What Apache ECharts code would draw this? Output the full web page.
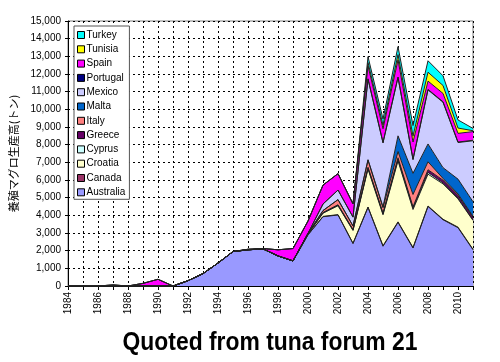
<!DOCTYPE html>
<html>
<head>
<meta charset="utf-8">
<script src="https://cdn.jsdelivr.net/npm/echarts@6/dist/echarts.min.js"></script>
<style>
  html, body { margin: 0; padding: 0; background: #fff; }
  #main { width: 500px; height: 362px; }
</style>
</head>
<body>
<div id="main"></div>
<script>
// years 1984-2011
var years = [];
for (var y = 1984; y <= 2011; y++) years.push(String(y));

var australia = [0,0,0,0,0,0,0,0,300,700,1300,1950,2050,2100,1700,1420,2900,3920,4020,2400,4450,2250,3600,2150,4500,3750,3300,2050];
var canada    = [0,0,0,0,0,0,0,0,0,0,0,0,0,0,0,0,0,20,20,20,20,30,30,30,30,30,30,30];
var croatia   = [0,0,0,0,0,0,0,0,0,0,0,0,0,0,0,0,50,180,500,720,2150,1750,3450,2150,1800,2000,1600,1630];
var cyprus    = [0,0,0,0,0,0,0,0,0,0,0,0,0,0,0,0,0,20,30,30,50,50,80,80,100,60,50,30];
var greece    = [0,0,0,0,0,0,0,0,0,0,0,0,0,0,0,0,0,20,30,30,50,50,100,70,150,150,150,150];
var italy     = [0,0,0,0,0,0,0,0,0,0,0,0,0,0,0,0,30,110,290,200,400,300,350,700,450,100,80,50];
var malta     = [0,0,0,0,0,0,0,0,0,0,0,0,0,0,0,0,0,0,0,0,30,50,890,1200,1010,610,840,830];
var mexico    = [0,0,0,0,0,0,0,0,0,0,0,0,0,0,0,0,0,370,540,500,4550,3620,3300,770,3060,3700,2070,3450];
var portugal  = [0,0,0,0,0,0,0,0,0,0,0,0,0,0,0,0,0,0,0,0,30,30,30,30,30,30,30,30];
var spain     = [0,0,0,60,0,150,380,0,0,0,0,0,30,20,350,700,700,1070,930,750,720,770,970,970,470,470,490,490];
var tunisia   = [0,0,0,0,0,0,0,0,0,0,0,0,0,0,0,0,0,0,0,0,200,200,300,330,500,450,300,50];
var turkey    = [0,0,0,0,0,0,0,0,0,0,0,0,0,0,0,0,0,0,0,0,330,350,450,600,650,550,460,130];

// bottom of stack first
var countries = ["Australia","Canada","Croatia","Cyprus","Greece","Italy","Malta","Mexico","Portugal","Spain","Tunisia","Turkey"];
var values = [australia, canada, croatia, cyprus, greece, italy, malta, mexico, portugal, spain, tunisia, turkey];
var colors = ["#9999ff","#993366","#ffffcc","#ccffff","#660066","#ff8080","#0066cc","#ccccff","#000080","#ff00ff","#ffff00","#00ffff"];

var series = countries.map(function (name, i) {
  return {
    name: name,
    type: "line",
    stack: "total",
    symbol: "none",
    data: values[i],
    itemStyle: { color: colors[i] },
    lineStyle: { color: "#222", width: 1 },
    areaStyle: { color: colors[i], opacity: 1 }
  };
});

var chart = echarts.init(document.getElementById("main"));
chart.setOption({
  animation: false,
  grid: {
    left: 68, right: 27, top: 21, bottom: 76,
    show: true, borderColor: "#808080", borderWidth: 1
  },
  legend: {
    orient: "vertical",
    left: 74, top: 26,
    data: countries.slice().reverse(),
    icon: "rect",
    itemWidth: 7, itemHeight: 7,
    itemGap: 2.3,
    padding: [3, 4, 1, 3],
    backgroundColor: "#fff",
    borderColor: "#555",
    borderWidth: 1,
    itemStyle: { borderColor: "#000", borderWidth: 1 },
    textStyle: { fontFamily: "Liberation Sans", fontSize: 10, color: "#000", padding: [0, 0, 0, -3], lineHeight: 12 }
  },
  xAxis: {
    type: "category",
    data: years,
    boundaryGap: false,
    axisLine: { lineStyle: { color: "#000", width: 1 } },
    axisTick: { show: true, interval: 0, length: 4, lineStyle: { color: "#000" } },
    axisLabel: { interval: 1, rotate: 90, fontFamily: "Liberation Sans", fontSize: 10, color: "#000", margin: 6 },
    splitLine: { show: true, interval: 0, lineStyle: { color: "#000", type: [2, 3], width: 1 } }
  },
  yAxis: {
    type: "value",
    min: 0, max: 15000, interval: 1000,
    name: "養殖マグロ生産高(トン)",
    nameLocation: "middle",
    nameRotate: 90,
    nameGap: 46,
    nameTextStyle: { fontFamily: "Noto Sans CJK JP", fontSize: 11, color: "#000" },
    axisLine: { show: true, lineStyle: { color: "#000", width: 1 } },
    axisTick: { show: true, length: 3, lineStyle: { color: "#000" } },
    axisLabel: {
      fontFamily: "Liberation Sans", fontSize: 10, color: "#000", margin: 7,
      formatter: function (v) { return v.toLocaleString("en-US"); }
    },
    splitLine: { show: true, lineStyle: { color: "#000", type: [2, 3], width: 1 } }
  },
  graphic: [{
    type: "text",
    x: 270,
    y: 343,
    scaleX: 0.88,
    style: {
      text: "Quoted from tuna forum 21",
      font: "bold 26px 'Liberation Sans'",
      fill: "#000",
      textAlign: "center",
      textVerticalAlign: "middle"
    }
  }],
  series: series
});
</script>
</body>
</html>
